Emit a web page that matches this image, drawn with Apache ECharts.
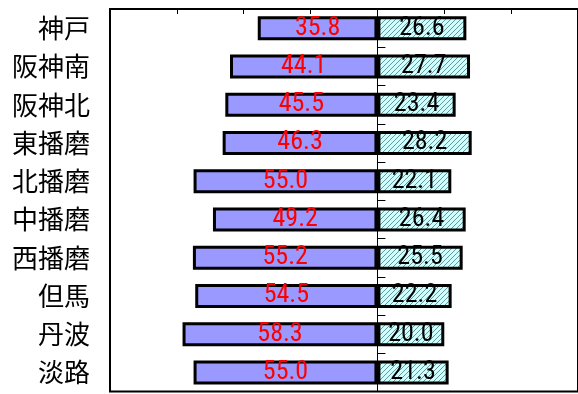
<!DOCTYPE html>
<html>
<head>
<meta charset="utf-8">
<script src="https://cdn.jsdelivr.net/npm/echarts@6/dist/echarts.min.js"></script>
<style>html,body{margin:0;padding:0;background:#fff}#c{width:578px;height:394px}</style>
</head>
<body>
<div id="c"></div>
<script>
const categories = ['神戸','阪神南','阪神北','東播磨','北播磨','中播磨','西播磨','但馬','丹波','淡路'];
const leftValues = [35.8, 44.1, 45.5, 46.3, 55.0, 49.2, 55.2, 54.5, 58.3, 55.0];
const rightValues = [26.6, 27.7, 23.4, 28.2, 22.1, 26.4, 25.5, 22.2, 20.0, 21.3];

function hatch() {
  const s = 5;
  const c = document.createElement('canvas');
  c.width = s; c.height = s;
  const g = c.getContext('2d');
  g.fillStyle = '#ccffff';
  g.fillRect(0, 0, s, s);
  g.strokeStyle = '#709494';
  g.lineWidth = 1;
  g.beginPath();
  g.moveTo(-1, s + 1); g.lineTo(s + 1, -1);
  g.moveTo(-1, 1); g.lineTo(1, -1);
  g.moveTo(s - 1, s + 1); g.lineTo(s + 1, s - 1);
  g.stroke();
  return c;
}

const chart = echarts.init(document.getElementById('c'));
const numFont = "'Roboto Condensed', sans-serif";
chart.setOption({
  animation: false,
  grid: { left: 110, top: 9, width: 469, bottom: 2.5, show: true, borderColor: '#000', borderWidth: 2, backgroundColor: 'transparent' },
  xAxis: {
    type: 'value', position: 'top', min: -80, max: 60, interval: 20,
    axisLine: { show: false, onZero: false },
    axisTick: { show: true, inside: true, length: 5, lineStyle: { color: '#000', width: 1 } },
    axisLabel: { show: false },
    splitLine: { show: false }
  },
  yAxis: [
    {
      type: 'category', inverse: true, data: categories,
      axisLine: { show: false, onZero: false },
      axisTick: { show: false },
      axisLabel: { margin: 20, fontSize: 26, color: '#000', fontFamily: "'Noto Sans CJK JP', sans-serif" }
    },
    {
      type: 'category', inverse: true, data: categories, position: 'left',
      axisLine: { show: true, onZero: true, lineStyle: { color: '#000', width: 1 } },
      axisTick: { show: true, inside: true, length: 8, lineStyle: { color: '#000', width: 1 } },
      axisLabel: { show: false }
    }
  ],
  series: [
    {
      type: 'bar', yAxisIndex: 0, data: leftValues.map(v => -v), barWidth: 24, barGap: '-100%',
      itemStyle: { color: '#9999ff', borderColor: '#000', borderWidth: 3 },
      label: { show: true, position: 'inside', color: '#ff0000', fontSize: 26, fontFamily: numFont,
        formatter: p => Math.abs(p.value).toFixed(1) }
    },
    {
      type: 'bar', yAxisIndex: 0, data: rightValues, barWidth: 24, barGap: '-100%',
      itemStyle: { color: { image: hatch(), repeat: 'repeat' }, borderColor: '#000', borderWidth: 3 },
      label: { show: true, position: 'inside', color: '#000', fontSize: 26, fontFamily: numFont,
        formatter: p => p.value.toFixed(1) }
    }
  ]
});
</script>
</body>
</html>
